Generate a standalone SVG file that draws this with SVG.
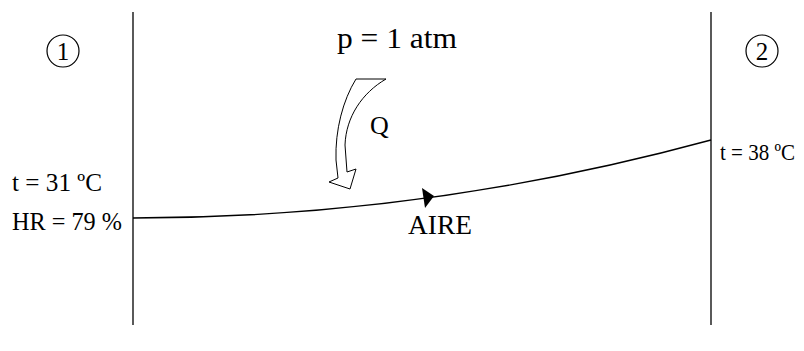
<svg xmlns="http://www.w3.org/2000/svg" width="804" height="351" viewBox="0 0 804 351">
<style>
.t{font-family:"Liberation Serif","Times New Roman",serif;fill:#000}
.ln{stroke:#000;stroke-width:1.3;fill:none}
.c{stroke:#000;stroke-width:1.2;fill:none}
</style>
<rect width="804" height="351" fill="#fff"/>
<g id="wall-left"><line class="ln" x1="133" y1="12" x2="133" y2="325"/></g>
<g id="wall-right"><line class="ln" x1="711" y1="12" x2="711" y2="325"/></g>
<g id="state1">
<ellipse class="c" cx="63" cy="51" rx="16" ry="16"/>
<text class="t" x="63" y="60" font-size="25" text-anchor="middle">1</text>
<text class="t" x="12" y="191" font-size="25" textLength="90" lengthAdjust="spacingAndGlyphs">t = 31 ºC</text>
<text class="t" x="12" y="230" font-size="25" textLength="110" lengthAdjust="spacingAndGlyphs">HR = 79 %</text>
</g>
<g id="state2">
<ellipse class="c" cx="762" cy="51" rx="16" ry="16"/>
<text class="t" x="762" y="60" font-size="25" text-anchor="middle">2</text>
<text class="t" x="720" y="160" font-size="23" textLength="75" lengthAdjust="spacingAndGlyphs">t = 38 ºC</text>
</g>
<g id="pressure"><text class="t" x="337" y="48" font-size="29" textLength="120" lengthAdjust="spacingAndGlyphs">p = 1 atm</text></g>
<g id="heat">
<path d="M356,79 L386,79 C362,93 346,117 345,145 L347,172 L356,169 L350,189 L329,182 L338,178 L336,160 C335,130 343,100 356,79 Z" fill="#fff" stroke="#000" stroke-width="1"/>
<text class="t" x="370" y="134" font-size="26">Q</text>
</g>
<g id="connectors">
<path class="ln" d="M133,218 C330,218 520,192 711,140"/>
<polygon points="422,188 434,196 425,208" fill="#000"/>
</g>
<g id="air"><text class="t" x="408" y="234" font-size="27" textLength="64" lengthAdjust="spacingAndGlyphs">AIRE</text></g>
</svg>
